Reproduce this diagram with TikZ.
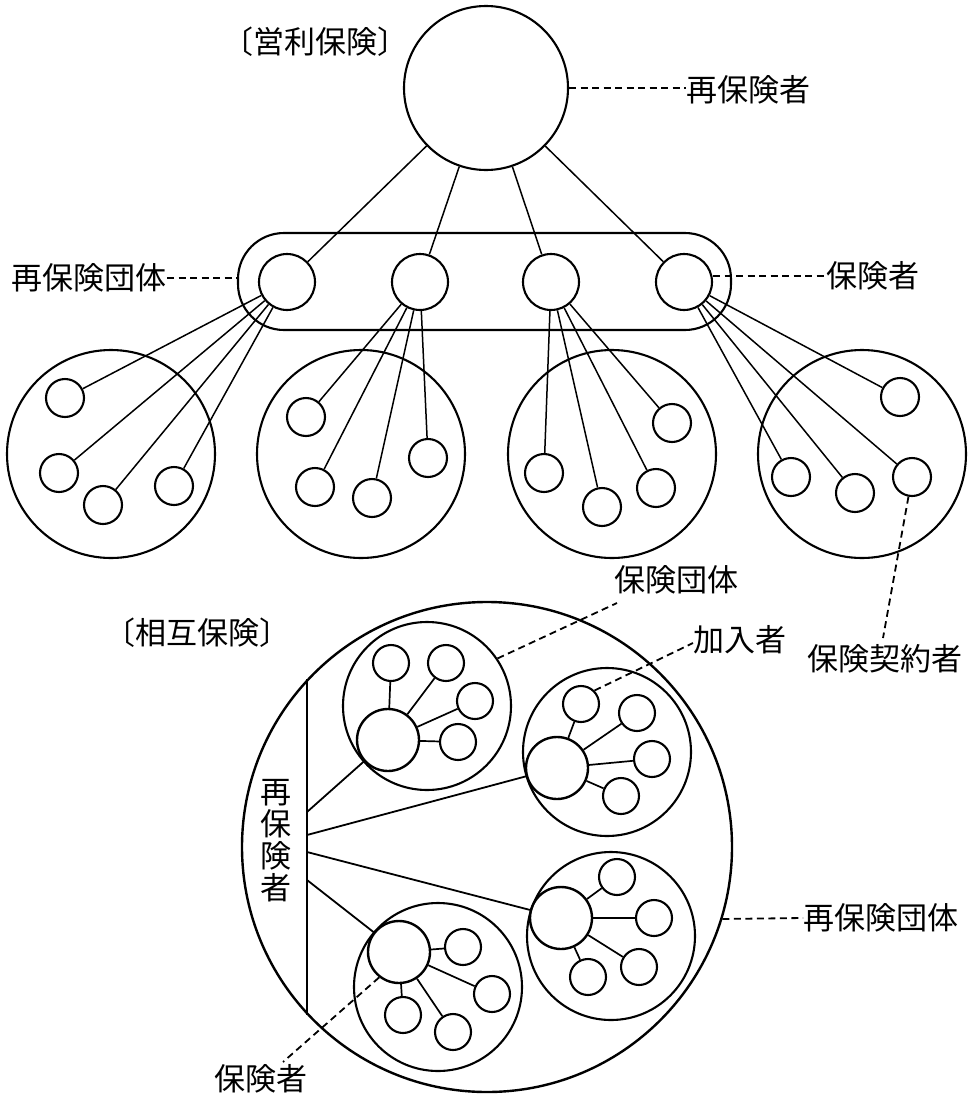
\documentclass[tikz,border=0pt]{standalone}
\usepackage{fontspec}
\newfontfamily\jp{Noto Sans CJK JP}
\begin{document}
\begin{tikzpicture}[x=1pt,y=-1pt,
  ln/.style={line width=1.5pt},
  circ/.style={draw, circle, line width=2.1pt, inner sep=0pt, minimum size=#1},
  dsh/.style={line width=1.8pt, dash pattern=on 7pt off 4.5pt},
  lbl/.style={font=\jp\fontsize{31}{32}\selectfont, inner sep=0pt}]
\useasboundingbox (0,0) rectangle (968,1095);

% ---------- top part: 営利保険 ----------
\node[lbl] (tEi) at (315,42) {〔営利保険〕};
\node[circ=164pt] (top) at (486,88) {};
\node[lbl, anchor=west] (tSai) at (686,90) {再保険者};
\draw[dsh] (top.east) -- (top.east -| tSai.west);

\node[draw, line width=2.1pt, rounded corners=46pt, minimum width=493pt, minimum height=97pt, inner sep=0pt] (grp) at (484.5,281.5) {};

\foreach \i/\x in {1/287,2/420,3/551,4/684}
  \node[circ=56pt] (r\i) at (\x,282) {};
\foreach \i in {1,...,4}
  \draw[ln] (top) -- (r\i);

\node[lbl, anchor=east] (lSaiG) at (167,278) {再保険団体};
\draw[dsh] (lSaiG.east) -- (lSaiG.east -| grp.west);
\node[lbl, anchor=west] (lHok) at (826,276) {保険者};
\draw[dsh] (r4.east |- lHok.west) -- (lHok.west);

\foreach \i/\x in {1/111,2/361,3/612,4/862}
  \node[circ=208pt] (E\i) at (\x,454) {};

\foreach \n/\x/\y in {e1a/65/398, e1b/59/473, e1c/103/505, e1d/174/486,
                      e2a/306/417, e2b/315/487, e2c/372/498, e2d/428/458,
                      e3a/544/473, e3b/602/507, e3c/656/488, e3d/672/423,
                      e4a/791/477, e4b/855/493, e4c/912/477, e4d/900/397}
  \node[circ=38pt] (\n) at (\x,\y) {};

\foreach \i in {1,...,4}
  \foreach \s in {a,b,c,d}
    \draw[ln] (r\i) -- (e\i\s);

\node[lbl] (lKei) at (885,659) {保険契約者};
\coordinate (kEnd) at (883,638);
\draw[dsh] (e4c) -- (kEnd);

% ---------- bottom part: 相互保険 ----------
\node[lbl] (lSogo) at (197,633) {〔相互保険〕};
\node[circ=490pt, line width=2.4pt] (big) at (487,847) {};
\draw[line width=1.9pt] (big.137) -- (big.223);
\node[lbl, align=center] (lSaiV) at (276,841) {再\\保\\険\\者};

% groups
\node[circ=168pt] (gA) at (427,706) {};
\node[circ=168pt] (gB) at (607,752) {};
\node[circ=168pt] (gC) at (611,936) {};
\node[circ=168pt] (gD) at (438,987) {};
\node[circ=62pt, line width=2.4pt] (hA) at (388,740) {};
\node[circ=62pt, line width=2.4pt] (hB) at (557,768) {};
\node[circ=62pt, line width=2.4pt] (hC) at (561,918) {};
\node[circ=62pt, line width=2.4pt] (hD) at (399,952) {};

\foreach \n/\x/\y in {A1/391/663, A2/446/663, A3/475/701, A4/458/742,
                      B1/581/704, B2/637/713, B3/652/759, B4/621/796,
                      C1/617/877, C2/654/918, C3/639/967, C4/588/977,
                      D1/463/947, D2/492/994, D3/453/1032, D4/403/1015}
  \node[circ=36pt] (s\n) at (\x,\y) {};

\foreach \g in {A,B,C,D}
  \foreach \k in {1,...,4}
    \draw[line width=1.7pt] (h\g) -- (s\g\k);

\coordinate (pA) at (307,812);
\coordinate (pB) at (307,835);
\coordinate (pC) at (307,852);
\coordinate (pD) at (307,880);
\draw[line width=1.8pt] (pA) -- (hA);
\draw[line width=1.8pt] (pB) -- (hB);
\draw[line width=1.8pt] (pC) -- (hC);
\draw[line width=1.8pt] (pD) -- (hD);

% labels of bottom part
\node[lbl] (lHG) at (676,580) {保険団体};
\coordinate (hgEnd) at (617,603);
\draw[dsh] (gA.34) -- (hgEnd);

\node[lbl] (lKan) at (740,640) {加入者};
\coordinate (kanEnd) at (693,643);
\draw[dsh] (sB1.45) -- (kanEnd);

\node[lbl, anchor=west] (lSaiG2) at (803,918) {再保険団体};
\draw[dsh] (big.-17) -- (lSaiG2.west);

\node[lbl] (lHok2) at (261,1079) {保険者};
\coordinate (h2End) at (283,1062);
\draw[dsh] (hD.232) -- (h2End);
\end{tikzpicture}
\end{document}
